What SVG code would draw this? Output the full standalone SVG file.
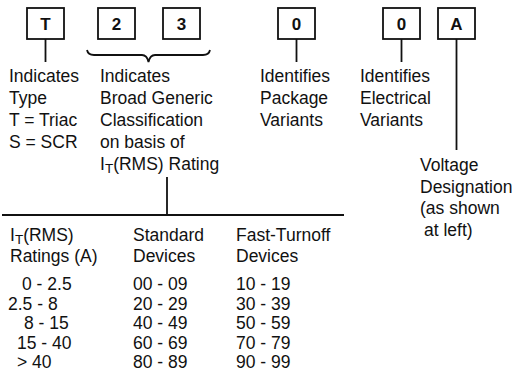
<svg xmlns="http://www.w3.org/2000/svg" width="519" height="384" viewBox="0 0 519 384">
<style>
text{font-family:"Liberation Sans",Arial,sans-serif;font-size:17.5px;fill:#111}
.bx{fill:#fff;stroke:#111;stroke-width:1.8}
.bl{font-weight:bold;font-size:17px;text-anchor:middle}
.ln{stroke:#111;stroke-width:1.8;fill:none}
.sub{font-size:13.5px}
</style>
<rect width="519" height="384" fill="#fff"/>
<g id="box-T"><rect class="bx" x="27" y="8" width="37" height="31"/><text class="bl" x="45.5" y="30">T</text></g>
<g id="box-2"><rect class="bx" x="98" y="8" width="37" height="31"/><text class="bl" x="116.5" y="30">2</text></g>
<g id="box-3"><rect class="bx" x="163" y="8" width="37" height="31"/><text class="bl" x="181.5" y="30">3</text></g>
<g id="box-0a"><rect class="bx" x="278" y="8" width="37" height="31"/><text class="bl" x="296.5" y="30">0</text></g>
<g id="box-0b"><rect class="bx" x="383" y="8" width="37" height="31"/><text class="bl" x="401.5" y="30">0</text></g>
<g id="box-A"><rect class="bx" x="438" y="8" width="37" height="31"/><text class="bl" x="456.5" y="30">A</text></g>
<g id="connectors">
<line class="ln" x1="45.5" y1="39" x2="45.5" y2="62"/>
<line class="ln" x1="296.5" y1="39" x2="296.5" y2="62"/>
<line class="ln" x1="401.5" y1="39" x2="401.5" y2="62"/>
<line class="ln" x1="456.5" y1="39" x2="456.5" y2="150"/>
<path class="ln" d="M87 50 Q88 55 94 55 L142 55 Q147 55 148.5 62 Q150 55 155 55 L203 55 Q209 55 210 50"/>
<line class="ln" x1="167" y1="177" x2="167" y2="215"/>
<line x1="2" y1="215" x2="344" y2="215" stroke="#111" stroke-width="2.2"/>
</g>
<g id="type-text">
<text x="9" y="82">Indicates</text>
<text x="9" y="104">Type</text>
<text x="9" y="126">T = Triac</text>
<text x="9" y="148">S = SCR</text>
</g>
<g id="class-text">
<text x="100" y="82">Indicates</text>
<text x="100" y="104">Broad Generic</text>
<text x="100" y="126">Classification</text>
<text x="100" y="148">on basis of</text>
<text x="100" y="170">I<tspan class="sub" dy="2.5">T</tspan><tspan dy="-2.5">(RMS) Rating</tspan></text>
</g>
<g id="package-text">
<text x="260" y="82">Identifies</text>
<text x="260" y="104">Package</text>
<text x="260" y="126">Variants</text>
</g>
<g id="electrical-text">
<text x="360" y="82">Identifies</text>
<text x="360" y="104">Electrical</text>
<text x="360" y="126">Variants</text>
</g>
<g id="voltage-text">
<text x="420" y="171">Voltage</text>
<text x="420" y="193">Designation</text>
<text x="420" y="214">(as shown</text>
<text x="424" y="236">at left)</text>
</g>
<g id="table">
<text x="10" y="241">I<tspan class="sub" dy="2.5">T</tspan><tspan dy="-2.5">(RMS)</tspan></text>
<text x="10" y="262">Ratings (A)</text>
<text x="133" y="241">Standard</text>
<text x="133" y="262">Devices</text>
<text x="236" y="241">Fast-Turnoff</text>
<text x="236" y="262">Devices</text>
<text x="22" y="290">0 - 2.5</text>
<text x="8" y="309.5">2.5 - 8</text>
<text x="24" y="329">8 - 15</text>
<text x="17" y="348.5">15 - 40</text>
<text x="17" y="368">&gt; 40</text>
<text x="133" y="290">00 - 09</text>
<text x="133" y="309.5">20 - 29</text>
<text x="133" y="329">40 - 49</text>
<text x="133" y="348.5">60 - 69</text>
<text x="133" y="368">80 - 89</text>
<text x="236" y="290">10 - 19</text>
<text x="236" y="309.5">30 - 39</text>
<text x="236" y="329">50 - 59</text>
<text x="236" y="348.5">70 - 79</text>
<text x="236" y="368">90 - 99</text>
</g>
</svg>
